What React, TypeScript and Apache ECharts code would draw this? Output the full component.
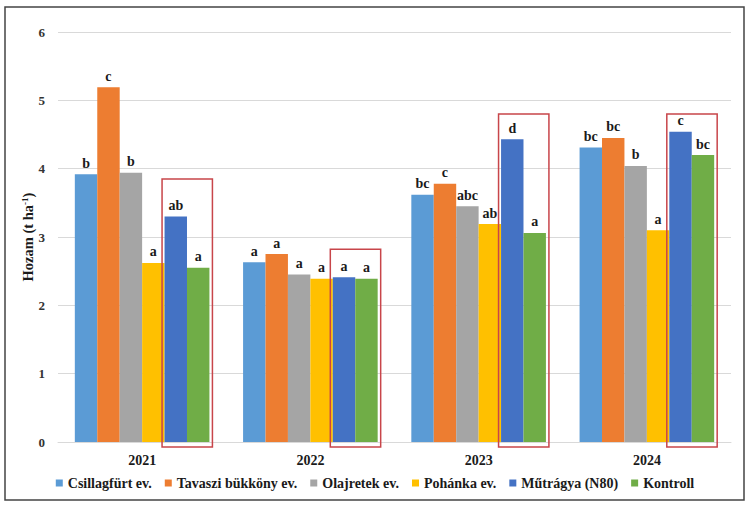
import React, { useEffect, useRef } from "react";
import * as echarts from "echarts";

const years = ["2021", "2022", "2023", "2024"];
const seriesNames = [
  "Csillagfürt ev.",
  "Tavaszi bükköny ev.",
  "Olajretek ev.",
  "Pohánka ev.",
  "Műtrágya (N80)",
  "Kontroll",
];
const colors = ["#5B9BD5", "#ED7D31", "#A5A5A5", "#FFC000", "#4472C4", "#70AD47"];

const csillagfurt = [3.92, 2.63, 3.62, 4.31];
const tavaszi = [5.19, 2.75, 3.78, 4.45];
const olajretek = [3.94, 2.45, 3.45, 4.04];
const pohanka = [2.62, 2.39, 3.19, 3.1];
const mutragya = [3.3, 2.41, 4.43, 4.54];
const kontroll = [2.55, 2.39, 3.06, 4.2];

const csillagfurtLetters = ["b", "a", "bc", "bc"];
const tavasziLetters = ["c", "a", "c", "bc"];
const olajretekLetters = ["b", "a", "abc", "b"];
const pohankaLetters = ["a", "a", "ab", "a"];
const mutragyaLetters = ["ab", "a", "d", "c"];
const kontrollLetters = ["a", "a", "a", "bc"];

// top of the red highlight boxes (value units)
const boxTops = [3.85, 2.82, 4.8, 4.8];

const yTicks = [0, 1, 2, 3, 4, 5, 6];

const FONT = "'Liberation Serif', 'Times New Roman', serif";

export default function App() {
  const ref = useRef<HTMLDivElement>(null);
  useEffect(() => {
    if (!ref.current) return;
    const chart = echarts.init(ref.current, null, { renderer: "svg" });
    const values = [csillagfurt, tavaszi, olajretek, pohanka, mutragya, kontroll];
    const letters = [
      csillagfurtLetters,
      tavasziLetters,
      olajretekLetters,
      pohankaLetters,
      mutragyaLetters,
      kontrollLetters,
    ];
    const barSeries = seriesNames.map((name, i) => ({
      name,
      type: "bar",
      data: values[i],
      barGap: "0%",
      barCategoryGap: "20%",
      itemStyle: { color: colors[i] },
      label: {
        show: true,
        position: "top",
        distance: 4,
        formatter: (p: any) => letters[i][p.dataIndex],
        fontFamily: FONT,
        fontWeight: "bold",
        fontSize: 14,
        color: "#1a1a1a",
      },
    }));
    const boxSeries = {
      name: "box",
      type: "custom",
      clip: false,
      silent: true,
      z: 5,
      data: boxTops.map((v, i) => [i, v]),
      encode: { x: 0, y: 1 },
      renderItem: (params: any, api: any) => {
        const idx = api.value(0);
        const base = api.coord([idx, 0]);
        const top = api.coord([idx, api.value(1)]);
        const band = api.size([1, 0])[0];
        const barW = (band * 0.8) / 6;
        const left = base[0] + barW - 2.5;
        const right = base[0] + 3 * barW + 3;
        const bottom = base[1] + 5;
        return {
          type: "rect",
          shape: { x: left, y: top[1], width: right - left, height: bottom - top[1] },
          style: { fill: "none", stroke: "#C8454A", lineWidth: 1.5 },
        };
      },
    };
    chart.setOption({
      animation: false,
      textStyle: { fontFamily: FONT },
      graphic: [
        {
          type: "rect",
          shape: { x: 5, y: 7, width: 739, height: 493 },
          style: { fill: "none", stroke: "#444", lineWidth: 1.5 },
          silent: true,
        },
      ],
      grid: { left: 58, right: 19, top: 32, bottom: 63 },
      legend: {
        data: seriesNames,
        bottom: 10,
        left: "center",
        itemWidth: 7,
        itemHeight: 7,
        itemGap: 13,
        icon: "rect",
        textStyle: { fontFamily: FONT, fontWeight: "bold", fontSize: 14, color: "#1a1a1a" },
      },
      xAxis: {
        type: "category",
        data: years,
        axisTick: { show: false },
        axisLine: { lineStyle: { color: "#d9d9d9" } },
        axisLabel: {
          fontFamily: FONT,
          fontWeight: "bold",
          fontSize: 14,
          color: "#1a1a1a",
          margin: 11,
        },
      },
      yAxis: {
        type: "value",
        min: yTicks[0],
        max: yTicks[yTicks.length - 1],
        interval: 1,
        name: "Hozam (t ha{sup|-1})",
        nameLocation: "middle",
        nameRotate: 90,
        nameGap: 22,
        nameMoveOverlap: false,
        nameTextStyle: {
          fontFamily: FONT,
          fontWeight: "bold",
          fontSize: 14.5,
          color: "#1a1a1a",
          rich: {
            sup: {
              fontFamily: FONT,
              fontWeight: "bold",
              fontSize: 9,
              verticalAlign: "top",
              padding: [0, 0, 7, 0],
              color: "#1a1a1a",
            },
          },
        },
        axisLine: { show: false },
        axisTick: { show: false },
        splitLine: { lineStyle: { color: "#d9d9d9" } },
        axisLabel: {
          fontFamily: FONT,
          fontWeight: "bold",
          fontSize: 13,
          color: "#333",
          margin: 13,
        },
      },
      series: [...barSeries, boxSeries],
    });
    return () => chart.dispose();
  }, []);
  return (
    <div
      ref={ref}
      style={{ position: "absolute", left: 0, top: 0, width: 750, height: 505, background: "#fff" }}
    />
  );
}
